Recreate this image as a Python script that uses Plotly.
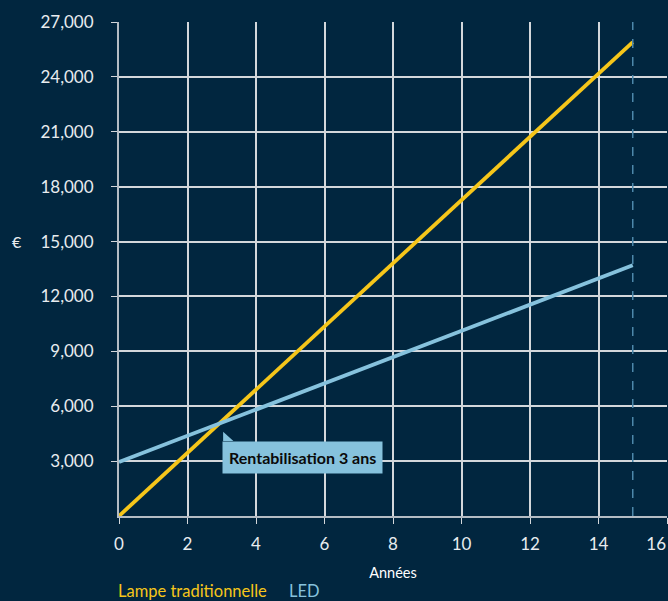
import plotly.graph_objects as go

years = [0, 15]
lampe_traditionnelle = [0, 25900]
led = [2950, 13700]
x_ticks = [0, 2, 4, 6, 8, 10, 12, 14, 16]
x_labels = ["0", "2", "4", "6", "8", "10", "12", "14", "16\u00a0\u00a0\u00a0\u00a0\u00a0"]
y_ticks = [3000, 6000, 9000, 12000, 15000, 18000, 21000, 24000, 27000]
y_labels = ["3,000", "6,000", "9,000", "12,000", "15,000", "18,000", "21,000", "24,000", "27,000"]
breakeven_label = "Rentabilisation 3 ans"
breakeven_x = 3.04
breakeven_y = 4100

BG = "#01263f"
YELLOW = "#f6c61a"
BLUE = "#86c2dd"
GRID = "#d3d7db"
FONT = "Lato, 'Open Sans', sans-serif"

fig = go.Figure()
fig.add_trace(go.Scatter(x=years, y=lampe_traditionnelle, mode="lines",
                         line=dict(color=YELLOW, width=3.8), name="Lampe traditionnelle",
                         showlegend=False, cliponaxis=False))
fig.add_trace(go.Scatter(x=years, y=led, mode="lines",
                         line=dict(color=BLUE, width=3.8), name="LED", showlegend=False))

# dashed vertical line at final year
fig.add_shape(type="line", xref="x", yref="paper", x0=years[-1], x1=years[-1], y0=0, y1=1,
              line=dict(color="#4d87aa", width=1.5, dash="dash"))

# callout tail
fig.add_shape(type="path", xref="x", yref="y",
              path=f"M {breakeven_x},{breakeven_y} L {breakeven_x},{breakeven_y + 500} L {breakeven_x + 0.3},{breakeven_y} Z",
              fillcolor=BLUE, line=dict(width=0))

fig.add_annotation(x=breakeven_x, y=breakeven_y, xref="x", yref="y", xanchor="left", yanchor="top",
                   text=f"<b>{breakeven_label}</b>", showarrow=False,
                   bgcolor=BLUE, borderpad=6, xshift=-1,
                   font=dict(family=FONT, size=16, color="#0a0a0a"))

fig.add_annotation(x=0, y=15000, xref="paper", yref="y", xanchor="center", yanchor="middle",
                   text="€", showarrow=False, font=dict(family=FONT, size=16, color="#e8ecef"),
                   xshift=-102)

fig.add_annotation(x=0, y=0, xref="paper", yref="paper", xanchor="left", yanchor="middle",
                   yshift=-75, xshift=-3, text="Lampe traditionnelle", showarrow=False,
                   font=dict(family=FONT, size=16.5, color=YELLOW))
fig.add_annotation(x=0, y=0, xref="paper", yref="paper", xanchor="left", yanchor="middle",
                   yshift=-75, xshift=168, text="LED", showarrow=False,
                   font=dict(family=FONT, size=16.5, color=BLUE))

fig.update_layout(
    width=668, height=601,
    margin=dict(l=119, r=1, t=22, b=85),
    paper_bgcolor=BG, plot_bgcolor=BG,
    font=dict(family=FONT, color="#e8ecef"),
    showlegend=False,
)
fig.update_xaxes(range=[0, 16], tickvals=x_ticks, ticktext=x_labels, showgrid=True,
                 gridcolor=GRID, gridwidth=1.5, automargin=False,
                 showline=True, linecolor="#b4bcc4", linewidth=2, ticks="outside", ticklen=6,
                 tickcolor=GRID, tickfont=dict(size=17, color="#e8ecef"), zeroline=False,
                 ticklabelstandoff=6, ticklabeloverflow="allow",
                 title=dict(text="Années", font=dict(size=14.5, color="#ffffff"), standoff=14))
fig.update_yaxes(range=[0, 27000], tickvals=y_ticks, ticktext=y_labels, showgrid=True,
                 gridcolor=GRID, gridwidth=1.5, showline=True, linecolor="#b4bcc4", linewidth=2,
                 ticks="outside", ticklen=6, tickcolor=GRID, ticklabelstandoff=14,
                 tickfont=dict(size=17, color="#e8ecef"), zeroline=False, automargin=False)

fig.write_html("out.html", config={"displayModeBar": False},
               post_script="document.body.style.margin='0';document.body.style.background='#01263f';document.body.style.overflow='hidden';")
